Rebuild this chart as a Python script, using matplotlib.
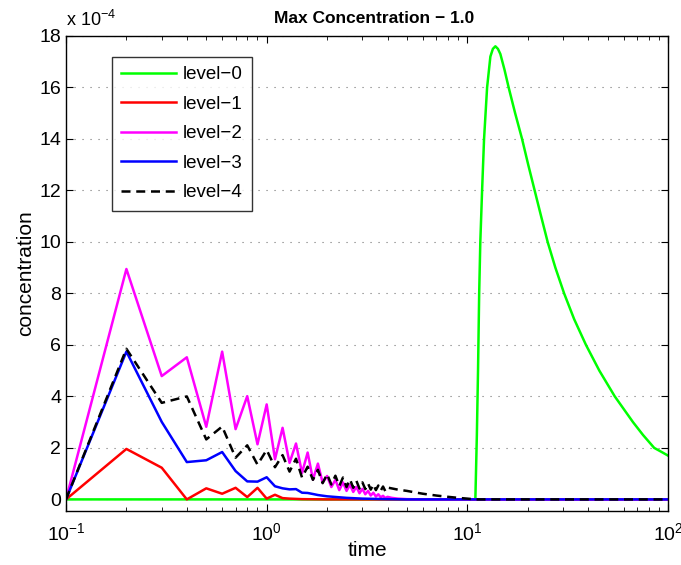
import numpy as np
import matplotlib
matplotlib.use("Agg")
import matplotlib.pyplot as plt
from matplotlib.ticker import FuncFormatter, LogLocator, MultipleLocator

plt.rcParams['font.family'] = ['Liberation Sans', 'DejaVu Sans']

# concentration values are in units of 1e-4
scale = 1e-4

# level-0 (green)
t0 = [0.1, 10.96, 11.15, 11.3, 11.45, 11.6, 11.84, 12.11, 12.54, 13.02, 13.4, 13.79, 14.2, 14.6,
      15.3, 16.06, 17.3, 18.73, 20.1, 21.64, 23.3, 25.12, 27.45, 30.35, 34.05, 38.99, 45.47, 54.27,
      66.9, 75.06, 85.3, 93, 100]
c0 = [0, 0, 2.5, 5, 8, 10, 12, 14, 16, 17.2, 17.5, 17.6, 17.5, 17.3,
      16.7, 16, 15.0, 14, 13.0, 12, 11.0, 10, 9.0, 8, 7.0, 6, 5.0, 4,
      3.0, 2.5, 2, 1.84, 1.7]

# level-1 (red)
t1 = [0.1, 0.2, 0.3, 0.4, 0.5, 0.6, 0.7, 0.8, 0.9, 1.0, 1.1, 1.2, 1.3, 1.5, 2.0, 100]
c1 = [0, 1.96, 1.23, 0, 0.43, 0.22, 0.45, 0.09, 0.45, 0.03, 0.18, 0.05, 0.03, 0.01, 0, 0]

# level-2 (magenta)
t2 = [0.1, 0.2, 0.3, 0.4, 0.5, 0.6, 0.7, 0.8, 0.9, 1.0, 1.1, 1.2, 1.3, 1.4, 1.5, 1.6,
      1.7, 1.8, 1.9, 2.0, 2.1, 2.2, 2.3, 2.4, 2.5, 2.6, 2.7, 2.8, 2.9, 3.0, 3.1, 3.2,
      3.3, 3.4, 3.5, 3.6, 3.7, 3.8, 3.9, 4.0, 4.2, 4.5, 5.0, 6.0, 100]
c2 = [0, 8.95, 4.79, 5.52, 2.82, 5.74, 2.73, 4.01, 2.14, 3.69, 1.56, 2.78, 1.42, 2.17, 1.03, 1.82,
      0.77, 1.39, 0.65, 0.91, 0.48, 0.76, 0.36, 0.66, 0.33, 0.57, 0.29, 0.49, 0.24, 0.41, 0.2, 0.33,
      0.15, 0.26, 0.11, 0.2, 0.08, 0.14, 0.05, 0.1, 0.06, 0.03, 0.01, 0, 0]

# level-3 (blue)
t3 = [0.1, 0.2, 0.3, 0.4, 0.5, 0.6, 0.7, 0.8, 0.9, 1.0, 1.1, 1.2, 1.3, 1.4, 1.5, 1.6,
      1.7, 1.8, 2.0, 2.5, 3.0, 4.0, 5.0, 100]
c3 = [0, 5.74, 3.01, 1.45, 1.52, 1.84, 1.10, 0.70, 0.69, 0.86, 0.51, 0.43, 0.39, 0.40, 0.26, 0.25,
      0.21, 0.17, 0.12, 0.06, 0.03, 0.01, 0, 0]

# level-4 (black dashed)
t4 = [0.1, 0.2, 0.3, 0.4, 0.5, 0.6, 0.7, 0.8, 0.9, 1.0, 1.1, 1.2, 1.3, 1.4, 1.5, 1.6,
      1.7, 1.8, 1.9, 2.0, 2.1, 2.2, 2.3, 2.4, 2.5, 2.6, 2.7, 2.8, 2.9, 3.0,
      3.1, 3.2, 3.3, 3.4, 3.5, 3.6, 3.7, 3.8, 3.9, 4.0,
      4.5, 5.0, 5.5, 6.0, 7.0, 8.0, 9.0, 10.0, 11.0, 100]
c4 = [0, 5.85, 3.75, 4.0, 2.33, 2.83, 1.62, 2.1, 1.35, 1.92, 1.25, 1.72, 1.08, 1.58, 0.85, 1.27,
      0.76, 1.15, 0.63, 0.98, 0.58, 0.92, 0.52, 0.85, 0.48, 0.78, 0.45, 0.72, 0.42, 0.66,
      0.4, 0.62, 0.38, 0.58, 0.36, 0.54, 0.34, 0.5, 0.32, 0.46,
      0.38, 0.33, 0.27, 0.22, 0.15, 0.1, 0.06, 0.03, 0, 0]

fig = plt.figure(figsize=(6.81, 5.65), dpi=100)
ax = fig.add_axes([0.0969, 0.0956, 0.8841, 0.8407])

lw = 1.8
ax.plot(t0, np.array(c0) * scale, color=(0, 1, 0), lw=lw, label='level\u22120')
ax.plot(t1, np.array(c1) * scale, color=(1, 0, 0), lw=lw, label='level\u22121')
ax.plot(t2, np.array(c2) * scale, color=(1, 0, 1), lw=lw, label='level\u22122')
ax.plot(t3, np.array(c3) * scale, color=(0, 0, 1), lw=lw, label='level\u22123')
ax.plot(t4, np.array(c4) * scale, color='black', lw=lw, ls='--', dashes=(3.6, 2.3),
        label='level\u22124')

ax.set_xscale('log')
ax.set_xlim(0.1, 100)
ax.set_ylim(-0.45e-4, 18e-4)
ax.yaxis.set_major_locator(MultipleLocator(2e-4))
ax.yaxis.set_major_formatter(FuncFormatter(lambda v, p: '%d' % round(v / scale)))
ax.xaxis.set_major_locator(LogLocator(base=10))
ax.xaxis.set_minor_locator(LogLocator(base=10, subs=np.arange(2, 10)))

ax.tick_params(which='both', direction='in', top=True, right=True, labelsize=14)
ax.tick_params(which='major', length=5, width=0.8)
ax.tick_params(which='minor', length=3, width=0.6)
ax.tick_params(axis='x', pad=8)
ax.tick_params(axis='y', pad=3.5)
ax.yaxis.grid(True, linestyle=(0, (1, 6.2)), color='0.45', lw=0.8)
ax.set_axisbelow(True)
for s in ax.spines.values():
    s.set_linewidth(1.0)

ax.set_xlabel('time', fontsize=15, labelpad=-2)
ax.set_ylabel('concentration', fontsize=15, labelpad=3)
ax.set_title('Max Concentration \u2212 1.0', fontsize=12.5, fontweight='bold', pad=9, x=0.512)
ax.text(0.0, 1.012, 'x 10$^{\\mathdefault{-4}}$', transform=ax.transAxes,
        fontsize=13, ha='left', va='bottom')

leg = ax.legend(loc='upper left', bbox_to_anchor=(0.0764, 0.956), borderaxespad=0,
                fontsize=13.5, frameon=True, fancybox=False, edgecolor='black',
                handlelength=2.9, handletextpad=0.35, labelspacing=0.66, borderpad=0.5)
leg.get_frame().set_linewidth(1.0)

fig.savefig('out.png', dpi=100)
